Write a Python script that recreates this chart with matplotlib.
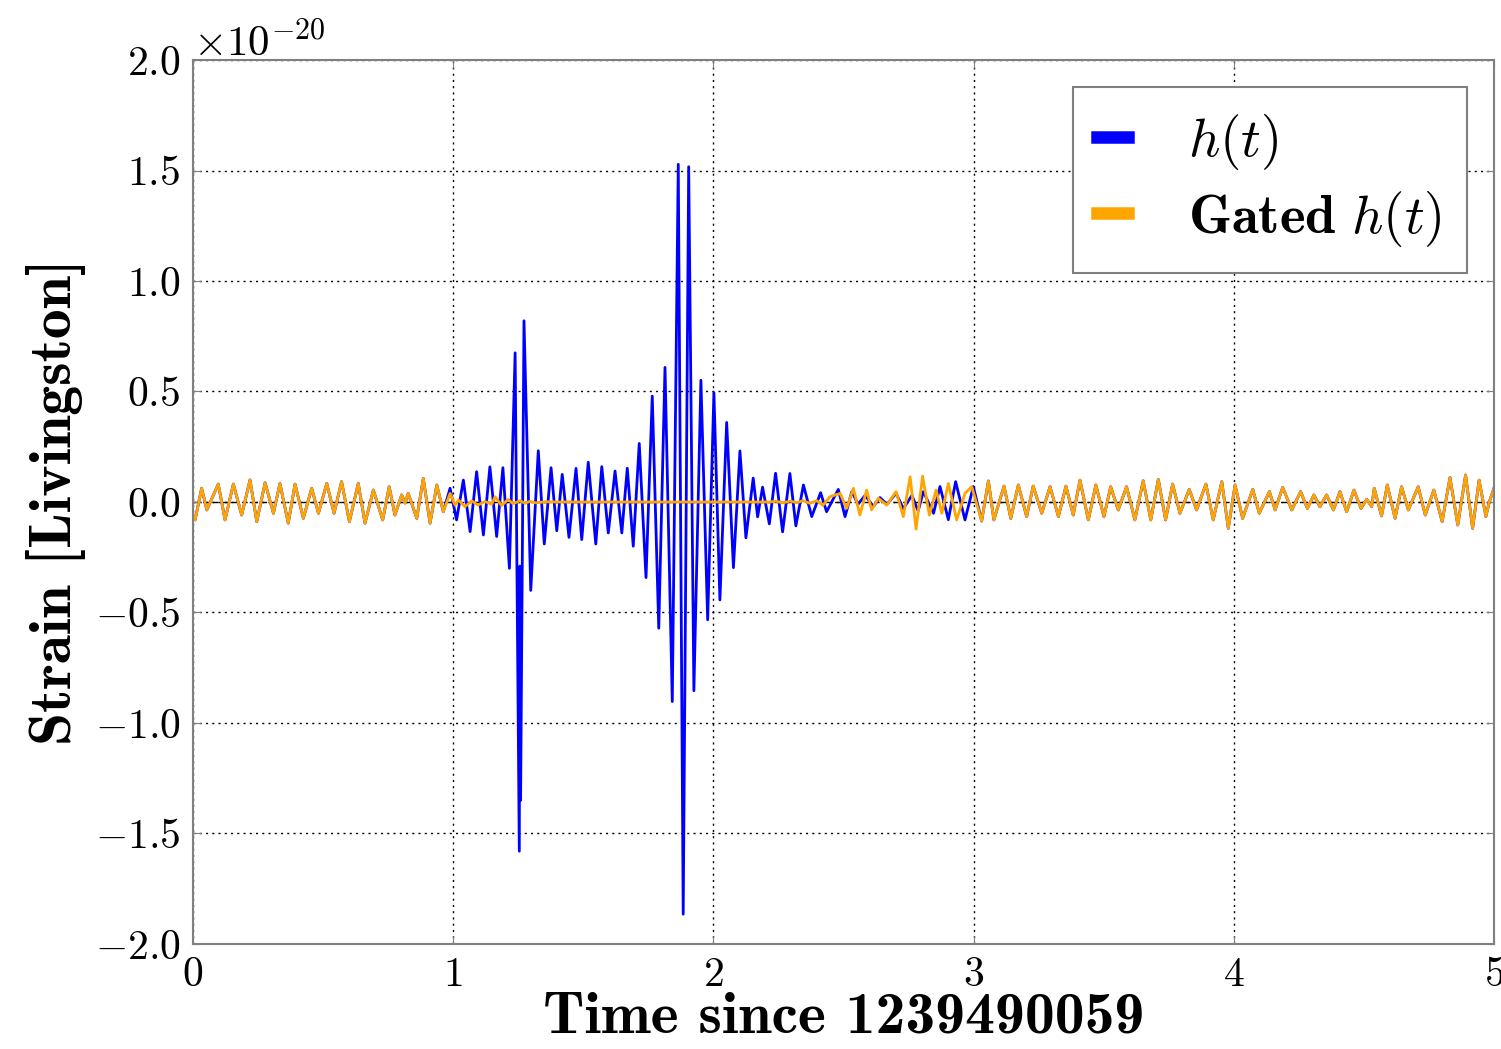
import numpy as np
import matplotlib
matplotlib.use('Agg')
import matplotlib.pyplot as plt

plt.rcParams['font.family'] = 'serif'
plt.rcParams['font.serif'] = ['cmr10']
plt.rcParams['mathtext.fontset'] = 'cm'
plt.rcParams['axes.formatter.use_mathtext'] = True
plt.rcParams['axes.unicode_minus'] = True

# strain values are in units of 1e-20, time in seconds since 1239490059
# part before the gate (blue and gated are the same here)
t_pre = [0.000, 0.008, 0.033, 0.053, 0.097, 0.123, 0.155, 0.187, 0.219, 0.245,
         0.277, 0.309, 0.334, 0.366, 0.392, 0.424, 0.456, 0.482, 0.514, 0.542,
         0.571, 0.601, 0.635, 0.661, 0.693, 0.729, 0.754, 0.776, 0.802, 0.815,
         0.827, 0.860, 0.885, 0.911, 0.937, 0.962]
h_pre = [-0.060, -0.081, 0.062, -0.036, 0.081, -0.081, 0.081, -0.059, 0.100, -0.089,
         0.087, -0.051, 0.084, -0.096, 0.081, -0.074, 0.062, -0.051, 0.084, -0.051,
         0.092, -0.089, 0.084, -0.096, 0.054, -0.081, 0.069, -0.059, 0.032, -0.005,
         0.039, -0.074, 0.107, -0.096, 0.077, -0.044]

# raw h(t) around the glitches
t_raw = [0.988, 1.013, 1.039, 1.065, 1.090, 1.116, 1.141, 1.167, 1.191, 1.216,
         1.238, 1.254, 1.256, 1.259, 1.272, 1.298, 1.327, 1.350, 1.376, 1.398,
         1.419, 1.445, 1.472, 1.494, 1.519, 1.548, 1.571, 1.596, 1.622, 1.648,
         1.669, 1.692, 1.715, 1.741, 1.765, 1.790, 1.814, 1.842, 1.865, 1.884,
         1.905, 1.925, 1.952, 1.978, 2.002, 2.025, 2.051, 2.077, 2.102, 2.125,
         2.153, 2.170, 2.189, 2.215, 2.239, 2.266, 2.294, 2.317, 2.346, 2.378,
         2.412, 2.435, 2.480, 2.506, 2.532, 2.556, 2.583, 2.615, 2.640, 2.667,
         2.702, 2.730, 2.763, 2.787, 2.807, 2.846, 2.871, 2.903, 2.931, 2.967,
         2.999]
h_raw = [0.062, -0.081, 0.099, -0.134, 0.137, -0.149, 0.159, -0.156, 0.155, -0.300,
         0.675, -1.580, -0.290, -1.350, 0.820, -0.400, 0.232, -0.190, 0.155, -0.130,
         0.125, -0.160, 0.152, -0.170, 0.180, -0.190, 0.160, -0.140, 0.140, -0.140,
         0.153, -0.200, 0.265, -0.342, 0.479, -0.571, 0.609, -0.903, 1.528, -1.865,
         1.517, -0.854, 0.551, -0.533, 0.494, -0.443, 0.360, -0.297, 0.231, -0.162,
         0.108, -0.067, 0.067, -0.099, 0.130, -0.135, 0.129, -0.108, 0.077, -0.066,
         0.042, -0.044, 0.057, -0.066, 0.047, -0.010, 0.030, -0.020, 0.020, -0.010,
         0.039, -0.030, 0.030, -0.040, 0.047, -0.051, 0.070, -0.080, 0.092, -0.081,
         0.070]

# gated h(t) over the same stretch
t_gate = [0.988, 1.007, 1.020, 1.045, 1.071, 1.095, 1.122, 1.148, 1.161, 1.186,
          1.211, 1.230, 1.257, 1.276, 1.295, 1.318, 1.353, 1.410, 2.218, 2.239,
          2.266, 2.294, 2.321, 2.344, 2.371, 2.397, 2.421, 2.448, 2.487, 2.512,
          2.538, 2.563, 2.589, 2.608, 2.634, 2.666, 2.702, 2.730, 2.756, 2.779,
          2.804, 2.830, 2.856, 2.878, 2.903, 2.935, 2.967, 2.993]
h_gate = [0.039, -0.014, 0.009, -0.021, 0.005, -0.014, 0.002, -0.010, 0.024, -0.016,
          0.012, -0.008, 0.006, -0.006, 0.003, -0.004, 0.001, 0.000, 0.000, 0.004,
          -0.004, 0.004, -0.003, 0.006, -0.006, 0.006, -0.015, 0.024, 0.039, -0.029,
          0.062, -0.059, 0.054, -0.036, 0.017, -0.014, 0.047, -0.066, 0.114, -0.123,
          0.117, -0.059, 0.054, -0.051, 0.084, -0.081, 0.039, 0.069]

# part after the gate (same for both)
t_post = [3.031, 3.057, 3.078, 3.117, 3.143, 3.172, 3.204, 3.229, 3.262, 3.294,
          3.326, 3.355, 3.383, 3.409, 3.441, 3.470, 3.501, 3.527, 3.556, 3.588,
          3.620, 3.652, 3.681, 3.710, 3.738, 3.765, 3.793, 3.829, 3.857, 3.893,
          3.921, 3.954, 3.979, 4.005, 4.034, 4.073, 4.098, 4.137, 4.159, 4.188,
          4.223, 4.257, 4.283, 4.308, 4.331, 4.357, 4.383, 4.408, 4.434, 4.462,
          4.489, 4.511, 4.530, 4.540, 4.568, 4.590, 4.620, 4.645, 4.671, 4.709,
          4.736, 4.769, 4.801, 4.831, 4.861, 4.891, 4.918, 4.943, 4.969, 4.982,
          5.000]
h_post = [-0.086, 0.095, -0.081, 0.072, -0.074, 0.077, -0.066, 0.072, -0.051, 0.069,
          -0.066, 0.072, -0.059, 0.099, -0.081, 0.077, -0.066, 0.069, -0.036, 0.069,
          -0.081, 0.096, -0.081, 0.102, -0.081, 0.081, -0.051, 0.057, -0.036, 0.081,
          -0.081, 0.092, -0.119, 0.077, -0.074, 0.057, -0.051, 0.047, -0.036, 0.066,
          -0.036, 0.047, -0.029, 0.032, -0.021, 0.032, -0.036, 0.047, -0.044, 0.054,
          -0.029, 0.012, -0.021, 0.062, -0.063, 0.077, -0.074, 0.069, -0.036, 0.069,
          -0.059, 0.054, -0.089, 0.111, -0.104, 0.122, -0.119, 0.099, -0.066, 0.000,
          0.062]

scale = 1e-20
t_h = np.array(t_pre + t_raw + t_post)
v_h = np.array(h_pre + h_raw + h_post) * scale
t_g = np.array(t_pre + t_gate + t_post)
v_g = np.array(h_pre + h_gate + h_post) * scale

fig = plt.figure(figsize=(15.01, 10.49), dpi=100)
ax = fig.add_axes([0.1286, 0.1001, 0.8667, 0.8427])

ax.plot(t_h, v_h, color='#0000ff', lw=2.0, label=r'$h(t)$')
ax.plot(t_g, v_g, color='orange', lw=2.0, label=r'$\mathbf{Gated}\ h(t)$')
ax.axhline(0, color='k', lw=1.0, ls=(0, (4, 3)), zorder=1)

ax.set_xlim(0, 5)
ax.set_ylim(-2e-20, 2e-20)
ax.set_xticks([0, 1, 2, 3, 4, 5])
ax.set_yticks(np.arange(-2.0, 2.01, 0.5) * scale)
ax.grid(True, color='k', lw=1.0, ls=(0, (1.5, 3)))
ax.tick_params(direction='in', top=True, right=True, labelsize=30, pad=9,
               length=6, color='#808080')
ax.yaxis.get_offset_text().set_fontsize(31)
for s in ax.spines.values():
    s.set_color('#808080')
    s.set_linewidth(1.5)

# bold Computer Modern for the axis labels
ax.set_xlabel('Time since 1239490059', fontsize=43, family='cmb10', labelpad=-2)
ax.set_ylabel('Strain [Livingston]', fontsize=43, family='cmb10', labelpad=6)

leg = ax.legend(loc='upper right', fontsize=39.5, handlelength=0.55,
                handletextpad=1.1, borderpad=0.45, labelspacing=0.3,
                fancybox=False, framealpha=1.0, borderaxespad=0.5)
leg.get_frame().set_edgecolor('#808080')
leg.get_frame().set_linewidth(1.5)
for line in leg.get_lines():
    line.set_linewidth(9)

fig.savefig('out.png', dpi=100)
